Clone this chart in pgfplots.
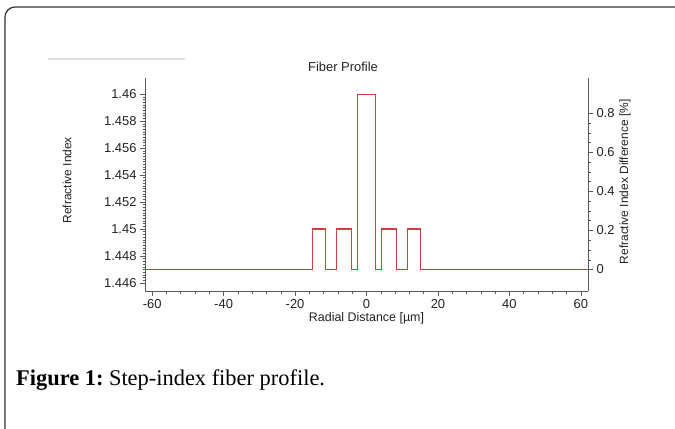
\documentclass[border=0pt]{standalone}
\usepackage{fontspec}
\setmainfont{Liberation Sans}
\newfontfamily\capfont{Liberation Serif}
\usepackage{pgfplots}
\pgfplotsset{compat=1.18}
\definecolor{prof}{RGB}{208,60,64}
\definecolor{axgray}{RGB}{90,90,90}
\definecolor{txt}{RGB}{35,35,35}
\definecolor{framec}{RGB}{50,50,50}
\definecolor{barc}{RGB}{222,222,222}
\begin{document}
\begin{tikzpicture}[x=1bp,y=1bp]
\useasboundingbox (0,0) rectangle (675,428);
\fill[white] (0,0) rectangle (675,428);
\draw[line width=1.2bp, framec, rounded corners=10bp] (700,421) -- (5,421) -- (5,-30);
\draw[line width=2.5bp, barc] (48,369) -- (185,369);
\node[txt, font=\fontsize{13}{15}\selectfont] at (343,361) {Fiber Profile};
\node[anchor=base west, inner sep=0pt, font=\capfont\fontsize{22.5}{26}\selectfont] at (16,43) {\textbf{Figure 1:}\hspace{-2bp} Step-index fiber profile.};

\begin{axis}[
  at={(145bp,137bp)}, anchor=south west,
  scale only axis, width=443bp, height=213bp,
  xmin=-62, xmax=62, ymin=1.44541, ymax=1.46119,
  axis x line*=bottom, axis y line*=left,
  axis line style={-, axgray, line width=0.6bp},
  tick style={axgray, line width=0.5bp},
  tick align=outside,
  major tick length=5bp, minor tick length=2.5bp,
  xtick={-60,-40,-20,0,20,40,60},
  xticklabels={-60,-40,-20,0,20,40,60},
  minor x tick num=4,
  ytick={1.446,1.448,1.450,1.452,1.454,1.456,1.458,1.460},
  yticklabels={1.446,1.448,1.45,1.452,1.454,1.456,1.458,1.46},
  minor y tick num=9,
  scaled y ticks=false,
  ticklabel style={txt, font=\fontsize{13}{15}\selectfont},
  /pgf/number format/assume math mode=true,
  xlabel={Radial Distance [µm]},
  ylabel={Refractive Index},
  every axis x label/.style={at={(axis description cs:0.5,-0.13)}, anchor=center, txt, font=\fontsize{12.5}{14}\selectfont},
  every axis y label/.style={at={(axis description cs:-0.176,0.52)}, rotate=90, anchor=center, txt, font=\fontsize{12}{14}\selectfont},
]
\addplot[prof, line width=1.1bp] coordinates {
(-62,1.447) (-15.2,1.447) (-15.2,1.450) (-11.5,1.450) (-11.5,1.447)
(-8.3,1.447) (-8.3,1.450) (-4.3,1.450) (-4.3,1.447)
(-2.5,1.447) (-2.5,1.460) (2.5,1.460) (2.5,1.447)
(4.3,1.447) (4.3,1.450) (8.3,1.450) (8.3,1.447)
(11.5,1.447) (11.5,1.450) (15.2,1.450) (15.2,1.447) (62,1.447)
};
\end{axis}

\begin{axis}[
  at={(145bp,137bp)}, anchor=south west,
  scale only axis, width=443bp, height=213bp,
  xmin=-62, xmax=62, ymin=-0.1099, ymax=0.9806,
  axis x line=none, axis y line*=right,
  axis line style={-, axgray, line width=0.6bp},
  tick style={axgray, line width=0.5bp},
  tick align=outside,
  major tick length=5bp, minor tick length=2.5bp,
  ytick={0,0.2,0.4,0.6,0.8},
  yticklabels={0,0.2,0.4,0.6,0.8},
  minor y tick num=3,
  ticklabel style={txt, font=\fontsize{13}{15}\selectfont},
  ylabel={Refractive Index Difference [\%]},
  every axis y label/.style={at={(axis description cs:1.0835,0.512)}, rotate=90, anchor=center, txt, font=\fontsize{12}{14}\selectfont},
]
\end{axis}
\end{tikzpicture}
\end{document}
